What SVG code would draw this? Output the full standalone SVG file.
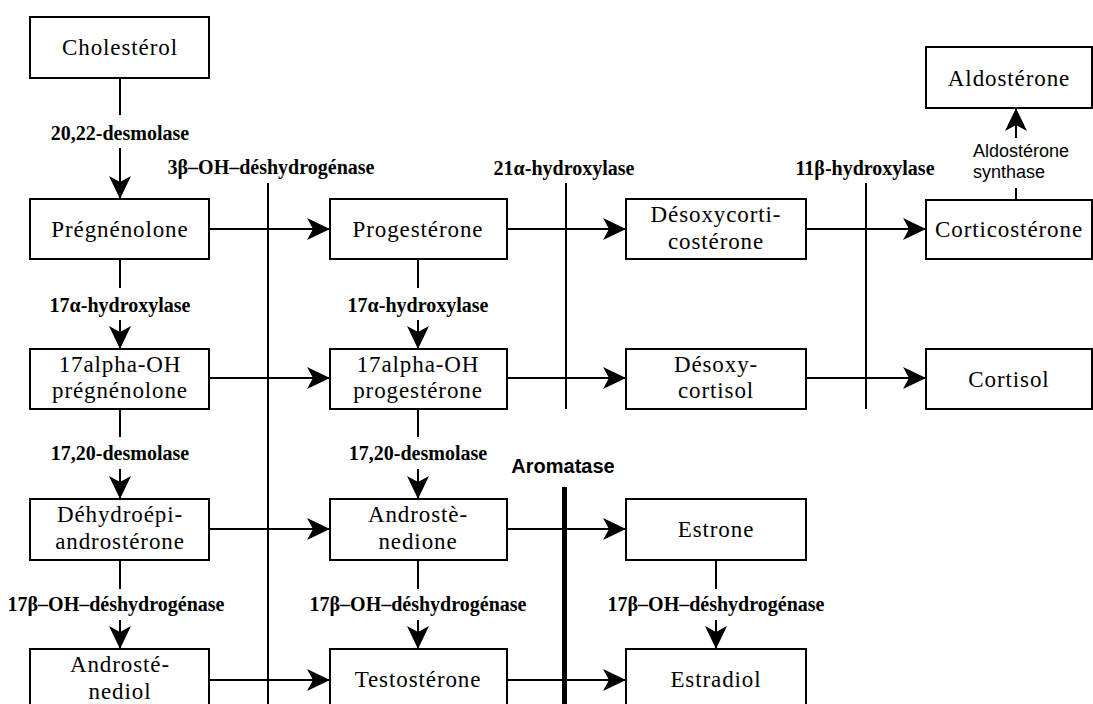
<svg xmlns="http://www.w3.org/2000/svg" width="1093" height="704" viewBox="0 0 1093 704">
<style>
.box{fill:#fff;stroke:#000;stroke-width:2}
.nt{font-family:"Liberation Serif","Times New Roman",serif;font-size:23px;letter-spacing:0.9px;text-anchor:middle;fill:#000}
.lb{font-family:"Liberation Serif","Times New Roman",serif;font-size:20px;font-weight:bold;text-anchor:middle;fill:#000}
.ss{font-family:"Liberation Sans",Arial,sans-serif;font-size:18px;fill:#000}
.ln{stroke:#000;stroke-width:2;fill:none}
.ar{stroke:#000;stroke-width:2;fill:none;marker-end:url(#ah)}
</style>
<defs>
<marker id="ah" markerWidth="24" markerHeight="24" viewBox="-23 -12 24 24" refX="0" refY="0" orient="auto" markerUnits="userSpaceOnUse">
<path d="M0,0 L-23,-11 L-17,0 L-23,11 Z" fill="#000"/>
</marker>
</defs>
<rect width="1093" height="704" fill="#fff"/>

<g id="connectors">
<line class="ln" x1="268" y1="183" x2="268" y2="704"/>
<line class="ln" x1="566" y1="183" x2="566" y2="409"/>
<line class="ln" x1="866" y1="183" x2="866" y2="409"/>
<line x1="564.5" y1="487" x2="564.5" y2="704" stroke="#000" stroke-width="5"/>
<line class="ar" x1="209" y1="229" x2="330" y2="229"/>
<line class="ar" x1="507" y1="229" x2="626" y2="229"/>
<line class="ar" x1="806" y1="229" x2="926" y2="229"/>
<line class="ar" x1="209" y1="378" x2="330" y2="378"/>
<line class="ar" x1="507" y1="378" x2="626" y2="378"/>
<line class="ar" x1="806" y1="378" x2="926" y2="378"/>
<line class="ar" x1="209" y1="529" x2="330" y2="529"/>
<line class="ar" x1="507" y1="529" x2="626" y2="529"/>
<line class="ar" x1="209" y1="680" x2="330" y2="680"/>
<line class="ar" x1="507" y1="680" x2="626" y2="680"/>
<line class="ln" x1="120" y1="78" x2="120" y2="115"/>
<line class="ar" x1="120" y1="148" x2="120" y2="199"/>
<line class="ln" x1="120" y1="259" x2="120" y2="288"/>
<line class="ar" x1="120" y1="320" x2="120" y2="349"/>
<line class="ln" x1="120" y1="409" x2="120" y2="437"/>
<line class="ar" x1="120" y1="469" x2="120" y2="499"/>
<line class="ln" x1="120" y1="560" x2="120" y2="589"/>
<line class="ar" x1="120" y1="620" x2="120" y2="649"/>
<line class="ln" x1="418" y1="259" x2="418" y2="288"/>
<line class="ar" x1="418" y1="320" x2="418" y2="349"/>
<line class="ln" x1="418" y1="409" x2="418" y2="437"/>
<line class="ar" x1="418" y1="469" x2="418" y2="499"/>
<line class="ln" x1="418" y1="560" x2="418" y2="589"/>
<line class="ar" x1="418" y1="620" x2="418" y2="649"/>
<line class="ln" x1="716" y1="560" x2="716" y2="589"/>
<line class="ar" x1="716" y1="620" x2="716" y2="649"/>
<line class="ln" x1="1016" y1="200" x2="1016" y2="188"/>
<line class="ar" x1="1016" y1="138" x2="1016" y2="108"/>

<text class="lb" x="120" y="140">20,22-desmolase</text>
<text class="lb" x="271" y="174">3β–OH–déshydrogénase</text>
<text class="lb" x="564" y="175">21α-hydroxylase</text>
<text class="lb" x="865" y="175">11β-hydroxylase</text>
<text class="ss" x="973" y="157">Aldostérone</text>
<text class="ss" x="973" y="178">synthase</text>
<text class="lb" x="120" y="312">17α-hydroxylase</text>
<text class="lb" x="418" y="312">17α-hydroxylase</text>
<text class="lb" x="120" y="460">17,20-desmolase</text>
<text class="lb" x="418" y="460">17,20-desmolase</text>
<text x="563" y="473" font-family="'Liberation Sans',Arial,sans-serif" font-size="20" font-weight="bold" text-anchor="middle">Aromatase</text>
<text class="lb" x="116" y="611">17β–OH–déshydrogénase</text>
<text class="lb" x="418" y="611">17β–OH–déshydrogénase</text>
<text class="lb" x="716" y="611">17β–OH–déshydrogénase</text>
</g>

<g id="cholesterol"><rect class="box" x="30" y="17" width="179" height="61"/><text class="nt" x="120" y="55">Cholestérol</text></g>
<g id="pregnenolone"><rect class="box" x="30" y="199" width="179" height="60"/><text class="nt" x="120" y="237">Prégnénolone</text></g>
<g id="oh-pregnenolone"><rect class="box" x="30" y="349" width="179" height="60"/><text class="nt" x="120" y="372">17alpha-OH</text><text class="nt" x="120" y="398">prégnénolone</text></g>
<g id="dhea"><rect class="box" x="30" y="499" width="179" height="61"/><text class="nt" x="120" y="522">Déhydroépi-</text><text class="nt" x="120" y="549">androstérone</text></g>
<g id="androstenediol"><rect class="box" x="30" y="649" width="179" height="62"/><text class="nt" x="120" y="672">Androsté-</text><text class="nt" x="120" y="699">nediol</text></g>

<g id="progesterone"><rect class="box" x="330" y="199" width="177" height="60"/><text class="nt" x="418" y="237">Progestérone</text></g>
<g id="oh-progesterone"><rect class="box" x="330" y="349" width="177" height="60"/><text class="nt" x="418" y="372">17alpha-OH</text><text class="nt" x="418" y="398">progestérone</text></g>
<g id="androstenedione"><rect class="box" x="330" y="499" width="177" height="61"/><text class="nt" x="418" y="522">Androstè-</text><text class="nt" x="418" y="549">nedione</text></g>
<g id="testosterone"><rect class="box" x="330" y="649" width="177" height="62"/><text class="nt" x="418" y="687">Testostérone</text></g>

<g id="desoxycorticosterone"><rect class="box" x="626" y="199" width="180" height="60"/><text class="nt" x="716" y="222">Désoxycorti-</text><text class="nt" x="716" y="249">costérone</text></g>
<g id="desoxycortisol"><rect class="box" x="626" y="349" width="180" height="60"/><text class="nt" x="716" y="372">Désoxy-</text><text class="nt" x="716" y="398">cortisol</text></g>
<g id="estrone"><rect class="box" x="626" y="499" width="180" height="61"/><text class="nt" x="716" y="537">Estrone</text></g>
<g id="estradiol"><rect class="box" x="626" y="649" width="180" height="62"/><text class="nt" x="716" y="687">Estradiol</text></g>

<g id="aldosterone"><rect class="box" x="926" y="47" width="166" height="61"/><text class="nt" x="1009" y="86">Aldostérone</text></g>
<g id="corticosterone"><rect class="box" x="926" y="200" width="166" height="59"/><text class="nt" x="1009" y="237">Corticostérone</text></g>
<g id="cortisol"><rect class="box" x="926" y="349" width="166" height="60"/><text class="nt" x="1009" y="387">Cortisol</text></g>
</svg>
